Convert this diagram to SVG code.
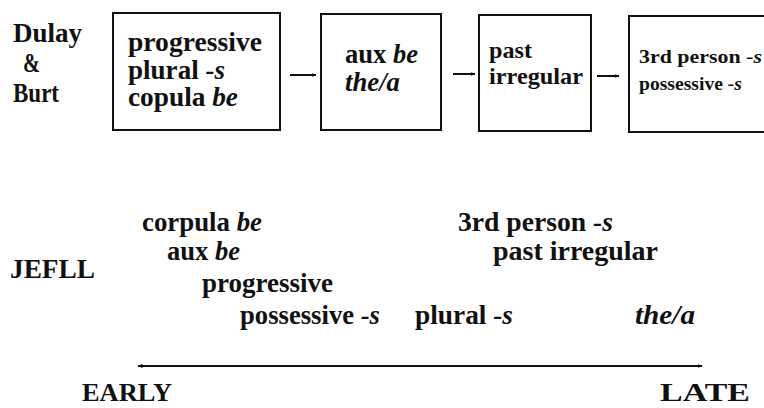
<svg xmlns="http://www.w3.org/2000/svg" width="764" height="408" viewBox="0 0 764 408">
<defs>
<style>
text{font-family:"Liberation Serif","Times New Roman",serif;font-weight:bold;fill:#111;font-size:27px}
.i{font-style:italic}
.s22{font-size:24px}
.s18{font-size:19px}
.s25{font-size:25px}
.box{fill:#fff;stroke:#111;stroke-width:2}
.conn{stroke:#111;stroke-width:2;fill:none}
</style>
<marker id="ah" viewBox="0 0 10 10" refX="9" refY="5" markerWidth="5" markerHeight="5" orient="auto-start-reverse" markerUnits="userSpaceOnUse">
<path d="M0,1 L10,5 L0,9 Z" fill="#111"/>
</marker>
</defs>
<rect width="764" height="408" fill="#fff"/>

<g id="label-dulay-burt">
<text x="13" y="42" textLength="69" lengthAdjust="spacingAndGlyphs">Dulay</text>
<text x="23" y="72" textLength="17" lengthAdjust="spacingAndGlyphs">&amp;</text>
<text x="13" y="102" textLength="46" lengthAdjust="spacingAndGlyphs">Burt</text>
</g>

<g id="box1">
<rect class="box" x="113" y="13" width="167" height="117"/>
<text x="128" y="51" textLength="134" lengthAdjust="spacingAndGlyphs">progressive</text>
<text x="128" y="79" textLength="97" lengthAdjust="spacingAndGlyphs">plural <tspan class="i">-s</tspan></text>
<text x="128" y="106" textLength="110" lengthAdjust="spacingAndGlyphs">copula <tspan class="i">be</tspan></text>
</g>

<g id="box2">
<rect class="box" x="321" y="14" width="120" height="116"/>
<text x="345" y="63" textLength="73" lengthAdjust="spacingAndGlyphs">aux <tspan class="i">be</tspan></text>
<text x="345" y="91" textLength="55" lengthAdjust="spacingAndGlyphs" class="i">the/a</text>
</g>

<g id="box3">
<rect class="box" x="479" y="15" width="112" height="116"/>
<text class="s22" x="489" y="58" textLength="43" lengthAdjust="spacingAndGlyphs">past</text>
<text class="s22" x="489" y="84" textLength="94" lengthAdjust="spacingAndGlyphs">irregular</text>
</g>

<g id="box4">
<rect class="box" x="629" y="16" width="150" height="116"/>
<text class="s18" x="639" y="63" textLength="123" lengthAdjust="spacingAndGlyphs">3rd person <tspan class="i">-s</tspan></text>
<text class="s18" x="639" y="90" textLength="103" lengthAdjust="spacingAndGlyphs">possessive <tspan class="i">-s</tspan></text>
</g>

<g id="connectors">
<line class="conn" x1="290" y1="75" x2="316" y2="75" marker-end="url(#ah)"/>
<line class="conn" x1="453" y1="74" x2="475" y2="74" marker-end="url(#ah)"/>
<line class="conn" x1="597" y1="76" x2="619" y2="76" marker-end="url(#ah)"/>
<line class="conn" x1="138" y1="366" x2="702" y2="366" stroke-width="2.5" marker-start="url(#ah)" marker-end="url(#ah)"/>
</g>

<g id="jefll">
<text x="10" y="278" textLength="85" lengthAdjust="spacingAndGlyphs">JEFLL</text>
<text x="142" y="231" textLength="120" lengthAdjust="spacingAndGlyphs">corpula <tspan class="i">be</tspan></text>
<text x="167" y="260" textLength="73" lengthAdjust="spacingAndGlyphs">aux <tspan class="i">be</tspan></text>
<text x="202" y="292" textLength="131" lengthAdjust="spacingAndGlyphs">progressive</text>
<text x="240" y="324" textLength="140" lengthAdjust="spacingAndGlyphs">possessive <tspan class="i">-s</tspan></text>
<text x="458" y="231" textLength="155" lengthAdjust="spacingAndGlyphs">3rd person <tspan class="i">-s</tspan></text>
<text x="493" y="260" textLength="165" lengthAdjust="spacingAndGlyphs">past irregular</text>
<text x="415" y="324" textLength="98" lengthAdjust="spacingAndGlyphs">plural <tspan class="i">-s</tspan></text>
<text x="635" y="324" textLength="60" lengthAdjust="spacingAndGlyphs" class="i">the/a</text>
</g>

<g id="axis-labels">
<text class="s25" x="82" y="401" textLength="90" lengthAdjust="spacingAndGlyphs">EARLY</text>
<text class="s25" x="660" y="401" textLength="90" lengthAdjust="spacingAndGlyphs">LATE</text>
</g>
</svg>
